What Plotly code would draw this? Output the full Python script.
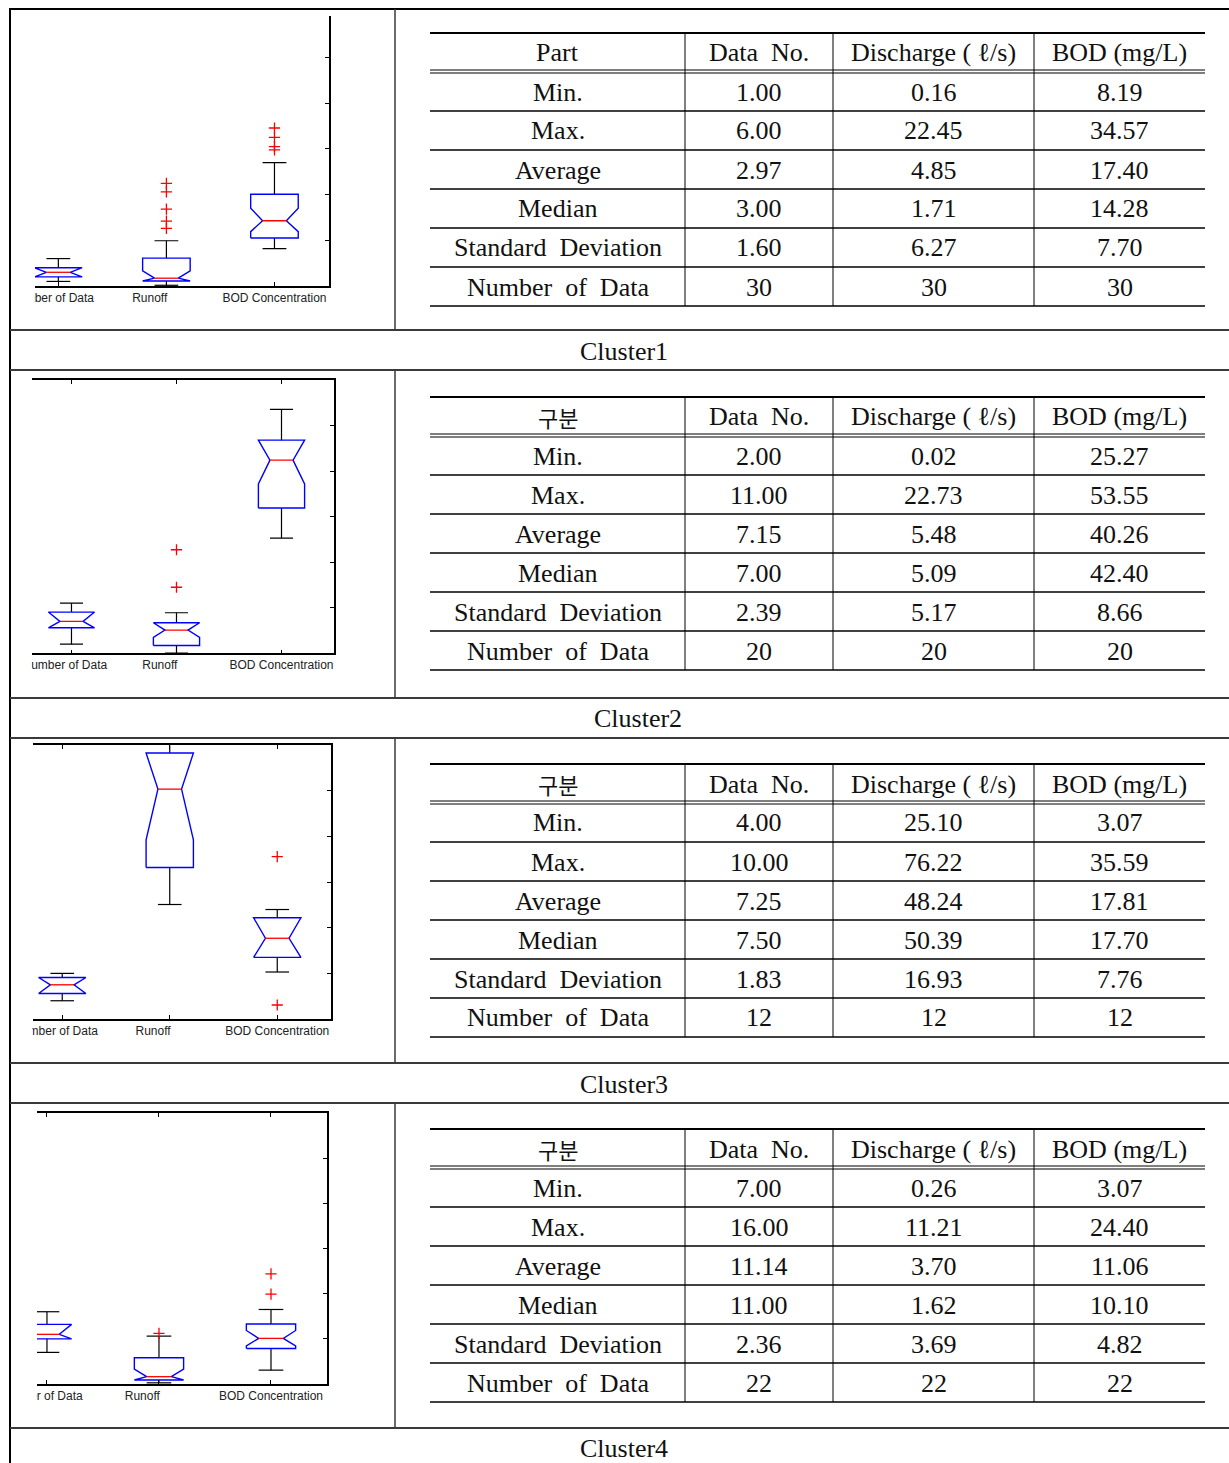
import plotly.graph_objects as go

W, H = 1229, 1463

# ---------------- data ----------------
cluster_names = ["Cluster1", "Cluster2", "Cluster3", "Cluster4"]
box_categories = ["Number of Data", "Runoff", "BOD Concentration"]
y_ticks = [0, 10, 20, 30, 40, 50, 60]

# box-plot statistics (per cluster: Number of Data, Runoff, BOD)
box_q1 = [[2.0, 1.09, 10.5], [5.6, 1.7, 31.9], [5.6, 33.2, 13.5], [10.0, 0.88, 7.87]]
box_median = [[3.00, 1.71, 14.28], [7.00, 5.09, 42.40], [7.50, 50.39, 17.70], [11.00, 1.62, 10.10]]
box_q3 = [[4.0, 6.1, 20.07], [9.05, 6.7, 46.8], [9.1, 58.3, 22.2], [13.2, 5.8, 13.3]]
notch_low = [[2.0, 1.09, 11.9], [5.6, 3.5, 37.2], [5.6, 39.3, 13.5], [10.0, 0.88, 8.45]]
notch_high = [[4.0, 3.3, 17.0], [9.05, 6.7, 46.8], [9.1, 58.3, 22.2], [13.2, 3.3, 11.85]]
whisker_low = [[1.00, 0.16, 8.19], [2.00, 0.02, 25.27], [4.00, 25.10, 10.3], [7.00, 0.26, 3.07]]
whisker_high = [[6.00, 9.9, 27.0], [11.00, 8.9, 53.55], [10.00, 76.22, 24.0], [16.00, 10.6, 16.5]]
outliers = [
    [[], [22.45, 20.6, 16.8, 14.2, 12.6], [34.57, 32.5, 30.5, 29.8]],
    [[], [22.73, 14.5], []],
    [[], [], [35.59, 3.07]],
    [[], [11.21], [24.40, 19.9]],
]

# table data
row_labels = ["Min.", "Max.", "Average", "Median", "Standard Deviation", "Number of Data"]
first_header = ["Part", "구분", "구분", "구분"]
col_headers = ["Data No.", "Discharge ( ℓ/s)", "BOD (mg/L)"]
data_no = [[1.00, 6.00, 2.97, 3.00, 1.60, 30], [2.00, 11.00, 7.15, 7.00, 2.39, 20],
           [4.00, 10.00, 7.25, 7.50, 1.83, 12], [7.00, 16.00, 11.14, 11.00, 2.36, 22]]
discharge = [[0.16, 22.45, 4.85, 1.71, 6.27, 30], [0.02, 22.73, 5.48, 5.09, 5.17, 20],
             [25.10, 76.22, 48.24, 50.39, 16.93, 12], [0.26, 11.21, 3.70, 1.62, 3.69, 22]]
bod = [[8.19, 34.57, 17.40, 14.28, 7.70, 30], [25.27, 53.55, 40.26, 42.40, 8.66, 20],
       [3.07, 35.59, 17.81, 17.70, 7.76, 12], [3.07, 24.40, 11.06, 10.10, 4.82, 22]]

# ---------------- layout geometry (pixels) ----------------
panel_tops = [9, 370, 738, 1103]
panel_bottoms = [330, 698, 1063, 1428]
caption_y = [351, 719, 1084, 1448]
caption_x = [624, 638, 624, 624]
table_tops = [33, 397, 764, 1129]
plots = [
    dict(x0=35, x1=328.5, xmin=0.784, ybot=286, ytop=16, ymax=59.08, top_line=False),
    dict(x0=32, x1=334, xmin=0.624, ybot=653.3, ytop=380, ymax=60, top_line=True),
    dict(x0=33, x1=331, xmin=0.728, ybot=1019, ytop=745.3, ymax=60, top_line=True),
    dict(x0=37, x1=327, xmin=0.911, ybot=1384, ytop=1113, ymax=60, top_line=True),
]
label_pad = [4, 10, 0]   # trailing no-break spaces shifting the tick labels left


def fx(px):
    return px / W


def fy(py):
    return 1 - py / H


SERIF = "Liberation Serif, Times New Roman, serif"
KR = "Noto Sans CJK KR, sans-serif"

fig = go.Figure()

HW = 0.22      # half box width (x units)
NW = 0.11      # notch indent
CAP = 0.11     # whisker cap half width

tick_text = [c + "\u00a0" * n for c, n in zip(box_categories, label_pad)]

for i in range(4):
    xa = "x" if i == 0 else f"x{i+1}"
    ya = "y" if i == 0 else f"y{i+1}"
    wx, wy, bx, by, mx, my, ox, oy = [], [], [], [], [], [], [], []
    for j in range(3):
        cx = j + 1
        L, R = cx - HW, cx + HW
        q1, md, q3 = box_q1[i][j], box_median[i][j], box_q3[i][j]
        nl, nh = notch_low[i][j], notch_high[i][j]
        wl, wh = whisker_low[i][j], whisker_high[i][j]
        wx += [cx, cx, None, cx - CAP, cx + CAP, None, cx, cx, None, cx - CAP, cx + CAP, None]
        wy += [q3, wh, None, wh, wh, None, q1, wl, None, wl, wl, None]
        bx += [L, L, L + NW, L, L, R, R, R - NW, R, R, L, None]
        by += [q1, nl, md, nh, q3, q3, nh, md, nl, q1, q1, None]
        mx += [L + NW, R - NW, None]
        my += [md, md, None]
        ox += [cx] * len(outliers[i][j])
        oy += outliers[i][j]
    fig.add_trace(go.Scatter(x=wx, y=wy, mode="lines", line=dict(color="black", width=1.2),
                             xaxis=xa, yaxis=ya, showlegend=False, hoverinfo="skip"))
    fig.add_trace(go.Scatter(x=bx, y=by, mode="lines", line=dict(color="#0000ff", width=1.4),
                             xaxis=xa, yaxis=ya, showlegend=False, hoverinfo="skip"))
    fig.add_trace(go.Scatter(x=mx, y=my, mode="lines", line=dict(color="#ff0000", width=1.3),
                             xaxis=xa, yaxis=ya, showlegend=False, hoverinfo="skip"))
    fig.add_trace(go.Scatter(x=ox, y=oy, mode="markers",
                             marker=dict(symbol="cross-thin", size=8, line=dict(color="#ff0000", width=1.3)),
                             xaxis=xa, yaxis=ya, showlegend=False, hoverinfo="skip"))

    p = plots[i]
    xkey = "xaxis" if i == 0 else f"xaxis{i+1}"
    ykey = "yaxis" if i == 0 else f"yaxis{i+1}"
    fig.update_layout(**{
        xkey: dict(domain=[fx(p["x0"]), fx(p["x1"])], range=[p["xmin"], 3.5],
                   tickvals=[1, 2, 3], ticktext=tick_text, ticks="inside", ticklen=4,
                   tickcolor="black", showline=True, linecolor="black", linewidth=1.5,
                   mirror="ticks" if p["top_line"] else False, showgrid=False, zeroline=False,
                   anchor=ya, automargin=False, ticklabeloverflow="allow",
                   tickfont=dict(family="Liberation Sans, Arial, sans-serif", size=12, color="#222"),
                   fixedrange=True),
        ykey: dict(domain=[fy(p["ybot"]), fy(p["ytop"])], range=[0, p["ymax"]], side="right",
                   anchor=xa, tickvals=y_ticks, ticks="inside", ticklen=4, tickcolor="black",
                   showticklabels=False, showline=True, linecolor="black", linewidth=1.5,
                   mirror=False, showgrid=False, zeroline=False, automargin=False, fixedrange=True),
    })

shapes = []
annotations = []


def hline(y, x0, x1, color="black", width=1.5):
    shapes.append(dict(type="line", xref="paper", yref="paper", x0=fx(x0), x1=fx(x1),
                       y0=fy(y), y1=fy(y), line=dict(color=color, width=width), layer="above"))


def vline(x, y0, y1, color="black", width=1.5):
    shapes.append(dict(type="line", xref="paper", yref="paper", x0=fx(x), x1=fx(x),
                       y0=fy(y0), y1=fy(y1), line=dict(color=color, width=width), layer="above"))


# white covers that crop the left side of each box-plot image
for i in range(4):
    shapes.append(dict(type="rect", xref="paper", yref="paper", x0=0, x1=fx(plots[i]["x0"] - 0.5),
                       y0=fy(panel_bottoms[i] - 1), y1=fy(panel_tops[i] + 1),
                       fillcolor="white", line=dict(width=0), layer="above"))

# outer frame and separators
FRAME = "#3a3a3a"
hline(9, 9, W, "black", 2)
vline(10, 9, H, "black", 2)
for i in range(4):
    hline(panel_bottoms[i], 10, W, FRAME, 2)
    if i < 3:
        hline(panel_tops[i + 1], 10, W, FRAME, 2)
    vline(395, panel_tops[i], panel_bottoms[i], FRAME, 1.5)
    annotations.append(dict(x=fx(caption_x[i]), y=fy(caption_y[i]), xref="paper", yref="paper",
                            text=cluster_names[i], showarrow=False, xanchor="center", yanchor="middle",
                            font=dict(family=SERIF, size=26, color="#111")))

# tables
col_edges = [430, 685, 833, 1034, 1205]
col_centers = [(col_edges[k] + col_edges[k + 1]) / 2 for k in range(4)]
ROW_H = 39
for i in range(4):
    T = table_tops[i]
    hline(T, col_edges[0], col_edges[-1], "black", 2)
    hline(T + 37, col_edges[0], col_edges[-1], "black", 1.2)
    hline(T + 40, col_edges[0], col_edges[-1], "black", 1.2)
    for r in range(6):
        hline(T + 78 + ROW_H * r, col_edges[0], col_edges[-1], "black", 1.5)
    for k in range(1, 4):
        vline(col_edges[k], T, T + 78 + ROW_H * 5, "black", 1)
    # header
    hdr = [first_header[i]] + col_headers
    for k in range(4):
        is_kr = any("\uac00" <= ch <= "\ud7a3" for ch in hdr[k])
        annotations.append(dict(x=fx(col_centers[k]), y=fy(T + 20), xref="paper", yref="paper",
                                text=hdr[k].replace(" ", "\u2002") if k == 1 else hdr[k],
                                showarrow=False, xanchor="center", yanchor="middle",
                                font=dict(family=KR if is_kr else SERIF, size=22 if is_kr else 26, color="#111")))
    cols = [data_no[i], discharge[i], bod[i]]
    for r in range(6):
        yc = T + 59 + ROW_H * r
        annotations.append(dict(x=fx(col_centers[0]), y=fy(yc), xref="paper", yref="paper",
                                text=row_labels[r].replace(" ", "\u2002"), showarrow=False,
                                xanchor="center", yanchor="middle",
                                font=dict(family=SERIF, size=26, color="#111")))
        for k in range(3):
            v = cols[k][r]
            txt = f"{int(v)}" if r == 5 else f"{v:.2f}"
            annotations.append(dict(x=fx(col_centers[k + 1]), y=fy(yc), xref="paper", yref="paper",
                                    text=txt, showarrow=False, xanchor="center", yanchor="middle",
                                    font=dict(family=SERIF, size=26, color="#111")))

fig.update_layout(width=W, height=H, autosize=False, margin=dict(l=0, r=0, t=0, b=0, pad=0, autoexpand=False),
                  paper_bgcolor="white", plot_bgcolor="white", showlegend=False,
                  shapes=shapes, annotations=annotations)

fig.write_html("out.html", post_script="document.body.style.margin='0px';",
               config={"displayModeBar": False})
